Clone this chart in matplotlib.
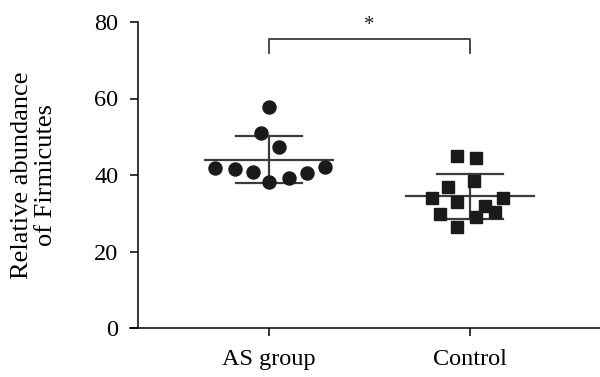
import numpy as np
import matplotlib.pyplot as plt

plt.rcParams['font.family'] = ['Liberation Serif', 'DejaVu Serif']

# dati
gruppi = ['AS group', 'Control']
valori_as = [57.7, 51.0, 47.3, 41.8, 41.5, 40.7, 38.1, 39.2, 40.5, 42.0]
scarto_as = [0.0, -0.04, 0.05, -0.27, -0.17, -0.08, 0.0, 0.10, 0.19, 0.28]
valori_ctrl = [44.9, 44.4, 38.4, 36.8, 33.9, 32.9, 33.9, 29.8, 26.4, 29.0, 31.9, 30.3]
scarto_ctrl = [-0.065, 0.03, 0.02, -0.11, -0.19, -0.065, 0.165, -0.15, -0.065, 0.03, 0.075, 0.125]
yticks = [0, 20, 40, 60, 80]

fig = plt.figure(figsize=(6, 3.77), dpi=100)
ax = fig.add_axes([130/600, 49/377, 470/600, 306/377])
ax.spines['left'].set_position(('data', -0.652))

grigio = '#3c3c3c'
for i, (vals, sc, m) in enumerate([(valori_as, scarto_as, 'o'), (valori_ctrl, scarto_ctrl, 's')]):
    vals = np.array(vals)
    media = vals.mean()
    sd = vals.std(ddof=1)
    ax.plot(i + np.array(sc), vals, linestyle='none', marker=m, markersize=9.4 if m == 'o' else 9,
            color='#1a1a1a', zorder=3)
    ax.plot([i - 0.32, i + 0.32], [media, media], color=grigio, lw=1.6, zorder=2)
    ax.plot([i - 0.165, i + 0.165], [media + sd, media + sd], color=grigio, lw=1.6, zorder=2)
    ax.plot([i - 0.165, i + 0.165], [media - sd, media - sd], color=grigio, lw=1.6, zorder=2)
    ax.plot([i, i], [media - sd, media + sd], color=grigio, lw=1.6, zorder=2)

# barra di significativita'
ax.plot([0, 0, 1, 1], [72.0, 75.6, 75.6, 72.0], color=grigio, lw=1.3, clip_on=False)
ax.text(0.5, 79.0, '*', ha='center', va='center', fontsize=15, color='#222222')

ax.set_xlim(-0.692, 1.647)
ax.set_ylim(0, 80)
ax.set_xticks([0, 1])
ax.set_xticklabels(gruppi)
ax.set_yticks(yticks)
ax.set_yticklabels([str(v) for v in yticks])
ax.spines['top'].set_visible(False)
ax.spines['right'].set_visible(False)
for s in ['left', 'bottom']:
    ax.spines[s].set_linewidth(1.1)
ax.tick_params(length=6, width=1.1, labelsize=17.5)
ax.tick_params(axis='x', pad=9)
ax.tick_params(axis='y', pad=8)
ax.set_ylabel('Relative abundance\nof Firmicutes', fontsize=19, linespacing=1.1)
ax.yaxis.set_label_coords(-0.155, 0.5)

fig.savefig('out.png', dpi=100)
